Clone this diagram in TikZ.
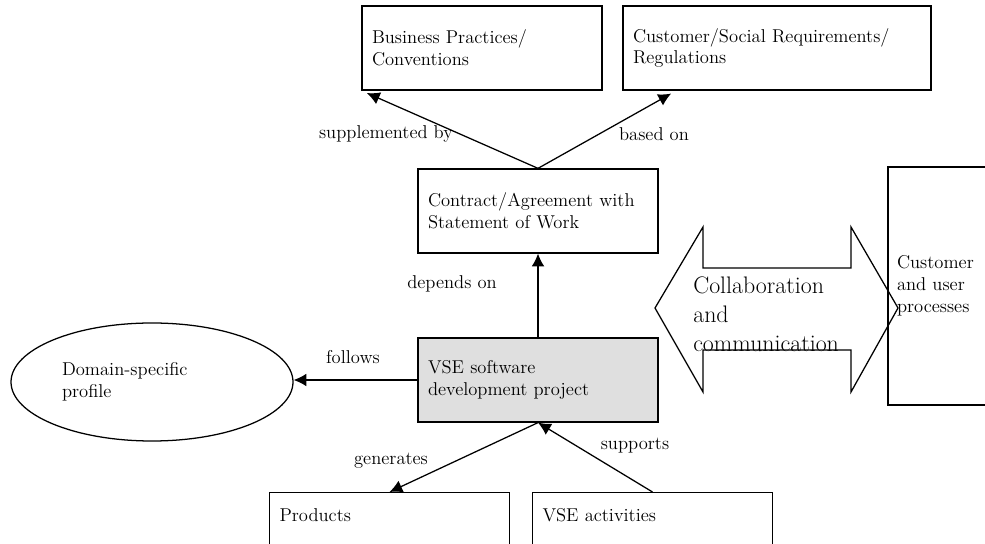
\documentclass[tikz,border=0pt]{standalone}
\usepackage{xcolor}
\usepackage{tikz}
\usetikzlibrary{shapes,arrows.meta,positioning}

\begin{document}
\begin{tikzpicture}[
    box/.style={rectangle, draw=black, line width=0.9pt, minimum height=2.1cm,
                inner xsep=0.25cm, align=left, font=\fontsize{13.2pt}{15.5pt}\selectfont},
    lbl/.style={font=\fontsize{13.2pt}{15.5pt}\selectfont, inner sep=1pt},
    flow/.style={line width=0.9pt, >={Latex[length=3.2mm, width=3.2mm]}}
]

% Frame of the page
\clip (0,0) rectangle (24.625,13.6);

% Top row
\node[box, text width=5.5cm] (business) at (12.05, 12.4) {Business Practices/\\Conventions};
\node[box, text width=7.2cm] (social) at (19.425, 12.4) {Customer/Social Requirements/\\Regulations};

% Contract
\node[box, text width=5.5cm] (contract) at (13.45, 8.325) {Contract/Agreement with\\Statement of Work};

% Project
\node[box, text width=5.5cm, fill=gray!25] (project) at (13.45, 4.1) {VSE software\\development project};

% Profile
\node[ellipse, draw=black, line width=0.9pt, minimum width=7.05cm, minimum height=2.95cm,
      text width=4.5cm, align=left, font=\fontsize{13.2pt}{15.5pt}\selectfont]
      (profile) at (3.8, 4.05) {Domain-specific\\profile};

% Bottom row (cut by the page edge)
\node[box, text width=5.5cm, minimum height=0pt, text height=0.6cm, text depth=1cm, anchor=north]
      (products) at (9.7375, 1.3) {Products};
\node[box, text width=5.5cm, minimum height=0pt, text height=0.6cm, text depth=1cm, anchor=north]
      (activities) at (16.3125, 1.3) {VSE activities};

% Customer side
\node[box, inner xsep=0.225cm, text width=2.6cm, minimum height=5.95cm]
      (customer) at (23.725, 6.45) {Customer\\and user\\processes};

% Double arrow
\draw[line width=0.9pt] (16.375,5.9) -- (17.575,7.925) -- (17.575,6.9) -- (21.275,6.9)
    -- (21.275,7.925) -- (22.45,5.9) -- (21.275,3.8) -- (21.275,4.85) -- (17.575,4.85)
    -- (17.575,3.8) -- cycle;
\node[anchor=west, inner sep=0pt, align=left, font=\fontsize{17pt}{20.6pt}\selectfont]
      (collab) at (17.325, 5.74) {Collaboration\\and\\communication};

% Arrows
\draw[->, flow, shorten >=0.15cm] (contract.north) -- (business.south west);
\draw[->, flow, shorten >=0.15cm] (contract.north) -- ([xshift=1.35cm]social.south west);
\draw[->, flow] (project.north) -- (contract.south);
\draw[->, flow] (project.west) -- (project.west -| profile.east);
\draw[->, flow] (project.south) -- (products.north);
\draw[->, flow] (activities.north) -- (project.south);

% Labels
\node[lbl] (lsupp) at (9.65, 10.25) {supplemented by};
\node[lbl] (lbased) at (16.35, 10.25) {based on};
\node[lbl] (ldep) at (11.3, 6.5) {depends on};
\node[lbl] (lfol) at (8.825, 4.675) {follows};
\node[lbl] (lgen) at (9.775, 2.075) {generates};
\node[lbl] (lsup) at (15.875, 2.45) {supports};

\end{tikzpicture}
\end{document}
